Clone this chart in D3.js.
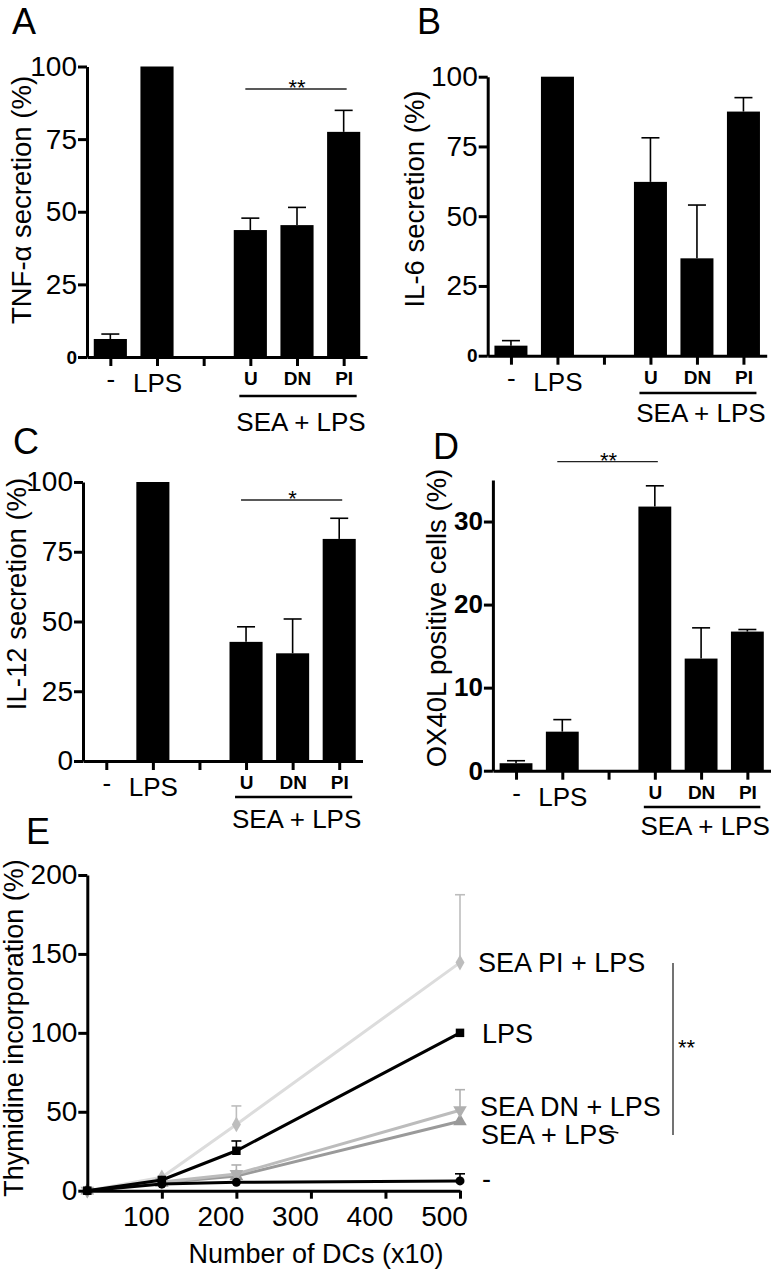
<!DOCTYPE html>
<html><head><meta charset="utf-8">
<script src="https://cdn.jsdelivr.net/npm/d3@7"></script>
<style>
body{margin:0;background:#fff;}
svg{display:block;font-family:"Liberation Sans",Arial,Helvetica,sans-serif;}
</style></head><body>
<svg id="c" width="777" height="1272"></svg>
<script>
// ---------- DATA ----------
const barCategories = ["-", "LPS", "gap", "U", "DN", "PI"];
const barTickLabels = ["-", "LPS", "", "U", "DN", "PI"];
const groupLabel = "SEA + LPS";

const tnfValues  = [6.2, 100, null, 43.7, 45.4, 77.5];
const tnfErrors  = [1.7, 0, null, 4.1, 6.1, 7.4];
const il6Values  = [3.6, 100, null, 62.3, 34.9, 87.5];
const il6Errors  = [1.8, 0, null, 15.8, 19.1, 5.0];
const il12Values = [0, 100, null, 42.7, 38.6, 79.6];
const il12Errors = [0, 0, null, 5.4, 12.3, 7.4];
const ox40Values = [0.9, 4.7, null, 31.8, 13.5, 16.75];
const ox40Errors = [0.3, 1.45, null, 2.5, 3.7, 0.25];
const pctTicks  = [0, 25, 50, 75, 100];
const ox40Ticks = [0, 10, 20, 30];

const dcCounts = [0, 100, 200, 500];
const dcTicks = [100, 200, 300, 400, 500];
const thyTicks = [0, 50, 100, 150, 200];
const seriesNames = ["SEA PI + LPS", "SEA + LPS", "SEA DN + LPS", "LPS", "-"];
const seaPiValues  = [0, 8.5, 42, 144.5];
const seaPiErrors  = [0, 0, 11.7, 43];
const seaValues    = [0, 5.0, 9.3, 44];
const seaErrors    = [0, 0, 0, 0];
const seaDnValues  = [0, 5.5, 10.6, 51];
const seaDnErrors  = [0, 0, 5.7, 13];
const lpsValues    = [0, 6.8, 25.3, 100];
const lpsErrors    = [0, 0, 6.2, 0];
const noneValues   = [0, 4.2, 5.3, 6.2];
const noneErrors   = [0, 0, 0, 4.5];

// ---------- DRAW ----------
const svg = d3.select("#c");
const FF = "Liberation Sans, Arial, sans-serif";
const TICKFONT = 28;
const TITLEFONT = 27.5;
const LETTERFONT = 36;

function drawBarPanel(p){
  const g = svg.append("g");
  const x = d3.scalePoint().domain(barCategories).range([p.x0, p.x1]).padding(0.5);
  const y = d3.scaleLinear().domain(p.yDomain).range([p.yBase, p.yTop]);
  const bw = x.step() * 0.71;
  const data = barCategories.map((c, i) => ({c, v: p.values[i], e: p.errors[i]}))
    .filter(d => d.v != null && d.v > 0);

  const ed = data.filter(d => d.e > 0);
  g.selectAll("line.err").data(ed).join("line").attr("class", "err")
    .attr("x1", d => x(d.c)).attr("x2", d => x(d.c))
    .attr("y1", d => y(d.v)).attr("y2", d => y(d.v + d.e))
    .attr("stroke", "#000").attr("stroke-width", 1.6);
  g.selectAll("line.cap").data(ed).join("line").attr("class", "cap")
    .attr("x1", d => x(d.c) - 9).attr("x2", d => x(d.c) + 9)
    .attr("y1", d => y(d.v + d.e)).attr("y2", d => y(d.v + d.e))
    .attr("stroke", "#000").attr("stroke-width", 1.6);

  g.selectAll("rect.bar").data(data).join("rect").attr("class", "bar")
    .attr("x", d => x(d.c) - bw / 2).attr("width", bw)
    .attr("y", d => y(d.v)).attr("height", d => y(0) - y(d.v))
    .attr("fill", "#000");

  const ya = g.append("g").attr("transform", `translate(${p.x0},0)`)
    .call(d3.axisLeft(y).tickValues(p.ticks).tickSize(9).tickSizeOuter(0).tickPadding(1));
  ya.select(".domain").attr("stroke", "#000").attr("stroke-width", 3);
  ya.selectAll(".tick line").attr("stroke", "#000").attr("stroke-width", 3);
  ya.selectAll(".tick text").attr("fill", "#000").attr("font-size", p.tickSize || TICKFONT)
    .attr("font-family", FF)
    .attr("font-weight", p.tickBold ? "bold" : "normal");
  if (p.zeroBold) {
    ya.selectAll(".tick text").filter(d => d === 0).attr("font-weight", "bold").attr("font-size", 19);
  }

  const xa = g.append("g").attr("transform", `translate(0,${p.yBase})`)
    .call(d3.axisBottom(x).tickSize(9).tickSizeOuter(0).tickFormat((d, i) => barTickLabels[i]));
  xa.select(".domain").attr("stroke", "#000").attr("stroke-width", 3);
  xa.selectAll(".tick line").attr("stroke", "#000").attr("stroke-width", 3);
  xa.selectAll(".tick text").attr("fill", "#000").attr("dy", 0)
    .attr("font-family", FF)
    .each(function(d, i){
      const t = d3.select(this);
      if (i < 2) { t.attr("font-size", 26).attr("y", i === 0 ? 31 : 35); }
      else { t.attr("font-size", 19).attr("font-weight", "bold").attr("y", 28); }
    });

  g.append("line").attr("x1", x("U") - 11).attr("x2", x("PI") + 13)
    .attr("y1", p.underY).attr("y2", p.underY).attr("stroke", "#000").attr("stroke-width", 2.5);
  g.append("text").attr("x", (x("U") + x("PI")) / 2 + 4).attr("y", p.groupY)
    .attr("text-anchor", "middle").attr("font-size", 26).text(groupLabel);

  if (p.sig) {
    g.append("line").attr("x1", x(p.sig.a) - 5).attr("x2", x(p.sig.b) + 3)
      .attr("y1", p.sig.y).attr("y2", p.sig.y).attr("stroke", "#222").attr("stroke-width", 1.3);
    g.append("text").attr("x", (x(p.sig.a) + x(p.sig.b)) / 2).attr("y", p.sig.y + 6)
      .attr("text-anchor", "middle").attr("font-size", 22).text(p.sig.label);
  }

  g.append("text").attr("transform", `translate(${p.yTitleX},${p.yTitleY}) rotate(-90)`)
    .attr("text-anchor", "middle").attr("font-size", TITLEFONT).text(p.yTitle);

  g.append("text").attr("x", p.letterX).attr("y", p.letterY).attr("font-size", LETTERFONT).text(p.letter);
}

drawBarPanel({letter: "A", letterX: 12, letterY: 34,
  x0: 87, x1: 367, yBase: 357, yTop: 66.5, yDomain: [0, 100], ticks: pctTicks, zeroBold: true,
  values: tnfValues, errors: tnfErrors, yTitle: "TNF-α secretion (%)", yTitleX: 31, yTitleY: 200,
  underY: 396, groupY: 431, sig: {a: "U", b: "PI", y: 89, label: "**"}});

drawBarPanel({letter: "B", letterX: 417, letterY: 34,
  x0: 487.7, x1: 766.7, yBase: 355.7, yTop: 76.7, yDomain: [0, 100], ticks: pctTicks, zeroBold: true,
  values: il6Values, errors: il6Errors, yTitle: "IL-6 secretion (%)", yTitleX: 424, yTitleY: 199,
  underY: 393, groupY: 422});

drawBarPanel({letter: "C", letterX: 13, letterY: 454,
  x0: 83, x1: 362.5, yBase: 761, yTop: 482, yDomain: [0, 100], ticks: pctTicks, zeroBold: false,
  values: il12Values, errors: il12Errors, yTitle: "IL-12 secretion (%)", yTitleX: 26, yTitleY: 594,
  underY: 797, groupY: 828, sig: {a: "U", b: "PI", y: 500, label: "*"}});

drawBarPanel({letter: "D", letterX: 433, letterY: 459,
  x0: 492.9, x1: 770.5, yBase: 770.7, yTop: 480, yDomain: [0, 35], ticks: ox40Ticks, tickBold: true, tickSize: 26,
  values: ox40Values, errors: ox40Errors, yTitle: "OX40L positive cells (%)", yTitleX: 446, yTitleY: 618,
  underY: 807, groupY: 835, sig: {a: "LPS", b: "U", y: 461.7, label: "**"}});

// ---------- Panel E ----------
const gE = svg.append("g");
const xE = d3.scaleLinear().domain([0, 500]).range([87.3, 460]);
const yE = d3.scaleLinear().domain([0, 200]).range([1190.7, 875]);

const series = [
  {name: seriesNames[0], values: seaPiValues, errors: seaPiErrors, line: "#dcdcdc", mark: "#bdbdbd", sym: d3.symbolDiamond, size: 70, rot: 0},
  {name: seriesNames[1], values: seaValues,   errors: seaErrors,   line: "#9a9a9a", mark: "#9a9a9a", sym: d3.symbolTriangle, size: 80, rot: 0},
  {name: seriesNames[2], values: seaDnValues, errors: seaDnErrors, line: "#bcbcbc", mark: "#b0b0b0", sym: d3.symbolTriangle, size: 80, rot: 180},
  {name: seriesNames[3], values: lpsValues,   errors: lpsErrors,   line: "#000", mark: "#000", sym: d3.symbolSquare, size: 72, rot: 0},
  {name: seriesNames[4], values: noneValues,  errors: noneErrors,  line: "#000", mark: "#000", sym: d3.symbolCircle, size: 64, rot: 0}
];
const labelPos = [
  {x: 478, y: 972}, {x: 481, y: 1144}, {x: 480, y: 1116}, {x: 482, y: 1043}, {x: 482, y: 1188}
];

const lineGen = d3.line().x(d => xE(d.x)).y(d => yE(d.y));
let seaLabelNode = null;
series.forEach((s, si) => {
  const pts = dcCounts.map((x, i) => ({x, y: s.values[i], e: s.errors[i]}));
  const eb = pts.filter(d => d.e > 0);
  gE.selectAll(null).data(eb).join("line")
    .attr("x1", d => xE(d.x)).attr("x2", d => xE(d.x))
    .attr("y1", d => yE(d.y)).attr("y2", d => yE(d.y + d.e))
    .attr("stroke", s.mark).attr("stroke-width", 1.6);
  gE.selectAll(null).data(eb).join("line")
    .attr("x1", d => xE(d.x) - 5).attr("x2", d => xE(d.x) + 5)
    .attr("y1", d => yE(d.y + d.e)).attr("y2", d => yE(d.y + d.e))
    .attr("stroke", s.mark).attr("stroke-width", 1.6);
  gE.append("path").datum(pts).attr("d", lineGen).attr("fill", "none")
    .attr("stroke", s.line).attr("stroke-width", 3);
  gE.selectAll(null).data(pts).join("path")
    .attr("transform", d => `translate(${xE(d.x)},${yE(d.y)}) rotate(${s.rot})`)
    .attr("d", d3.symbol().type(s.sym).size(s.size)).attr("fill", s.mark);
  const t = gE.append("text").attr("x", labelPos[si].x).attr("y", labelPos[si].y)
    .attr("font-size", 27).attr("fill", "#000").text(s.name);
  if (si === 1) seaLabelNode = t.node();
});
// small stroke across the final "S" of "SEA + LPS" (as in the original)
const bb = seaLabelNode.getBBox();
const endX = bb.x + bb.width;
gE.append("path")
  .attr("d", `M${endX - 14},1134 Q${endX - 7},1130 ${endX + 3},1133`)
  .attr("fill", "none").attr("stroke", "#000").attr("stroke-width", 1.6);

const yaE = gE.append("g").attr("transform", `translate(${xE(0)},0)`)
  .call(d3.axisLeft(yE).tickValues(thyTicks).tickSize(9).tickSizeOuter(0).tickPadding(1));
yaE.select(".domain").attr("stroke", "#000").attr("stroke-width", 3);
yaE.selectAll(".tick line").attr("stroke", "#000").attr("stroke-width", 3);
yaE.selectAll(".tick text").attr("fill", "#000").attr("font-size", TICKFONT).attr("font-family", FF);

const xaE = gE.append("g").attr("transform", `translate(0,${yE(0)})`)
  .call(d3.axisBottom(xE).tickValues(dcTicks).tickSize(8).tickSizeOuter(0));
xaE.select(".domain").attr("stroke", "#000").attr("stroke-width", 3);
xaE.selectAll(".tick line").attr("stroke", "#000").attr("stroke-width", 3);
xaE.selectAll(".tick text").attr("fill", "#000").attr("font-size", TICKFONT).attr("dy", 0)
  .attr("y", 35).attr("dx", -16).attr("font-family", FF);

gE.append("text").attr("x", 316).attr("y", 1263).attr("text-anchor", "middle")
  .attr("font-size", 27).text("Number of DCs (x10)");
gE.append("text").attr("transform", "translate(23,1028) rotate(-90)")
  .attr("text-anchor", "middle").attr("font-size", 27).text("Thymidine incorporation (%)");
gE.append("text").attr("x", 26).attr("y", 844).attr("font-size", LETTERFONT).text("E");

gE.append("line").attr("x1", 673).attr("x2", 673).attr("y1", 963).attr("y2", 1135)
  .attr("stroke", "#444").attr("stroke-width", 1.5);
gE.append("text").attr("x", 678).attr("y", 1055).attr("font-size", 22).text("**");
</script>
</body></html>
